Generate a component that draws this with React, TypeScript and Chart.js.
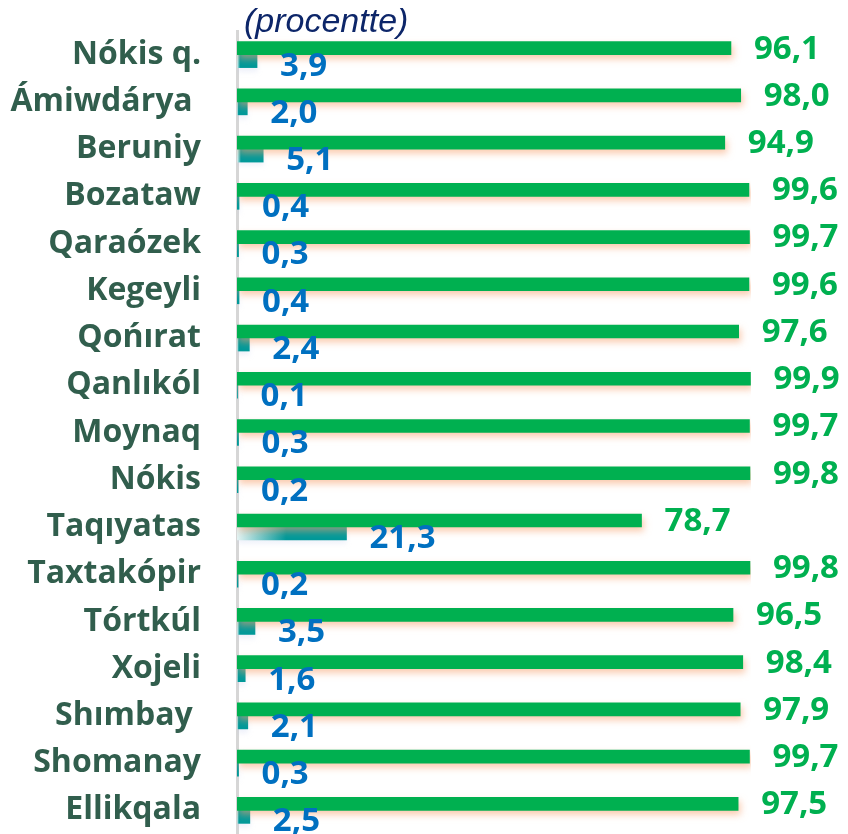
import React, { useEffect, useRef } from "react";
import { Chart, registerables } from "chart.js";

Chart.register(...registerables);

const categories = [
  "Nókis q.",
  "Ámiwdárya ",
  "Beruniy",
  "Bozataw",
  "Qaraózek",
  "Kegeyli",
  "Qońırat",
  "Qanlıkól",
  "Moynaq",
  "Nókis",
  "Taqıyatas",
  "Taxtakópir",
  "Tórtkúl",
  "Xojeli",
  "Shımbay ",
  "Shomanay",
  "Ellikqala",
];

const greenValues = [96.1, 98.0, 94.9, 99.6, 99.7, 99.6, 97.6, 99.9, 99.7, 99.8, 78.7, 99.8, 96.5, 98.4, 97.9, 99.7, 97.5];
const tealValues = [3.9, 2.0, 5.1, 0.4, 0.3, 0.4, 2.4, 0.1, 0.3, 0.2, 21.3, 0.2, 3.5, 1.6, 2.1, 0.3, 2.5];

const unitLabel = "(procentte)";

const GREEN = "#00b050";
const TEAL = "#009999";
const BLUE = "#0070c0";
const CAT_COLOR = "#315e4d";
const TITLE_COLOR = "#0d2669";
const VALUE_FONT = "bold 33px 'Open Sans'";

const fmt = (v: number) => v.toFixed(1).replace(".", ",");

export default function App() {
  const ref = useRef<HTMLCanvasElement | null>(null);

  useEffect(() => {
    if (!ref.current) return;

    const shadowPlugin = {
      id: "barShadow",
      beforeDatasetDraw(chart: any, args: any) {
        const ctx = chart.ctx;
        ctx.save();
        if (args.index === 0) {
          ctx.shadowColor = "rgba(245,160,110,0.55)";
          ctx.shadowBlur = 7;
          ctx.shadowOffsetX = 2;
          ctx.shadowOffsetY = 4;
        } else {
          ctx.shadowColor = "rgba(190,200,235,0.25)";
          ctx.shadowBlur = 5;
          ctx.shadowOffsetX = 0;
          ctx.shadowOffsetY = 4;
        }
      },
      afterDatasetDraw(chart: any) {
        chart.ctx.restore();
      },
    };

    const labelPlugin = {
      id: "valueLabels",
      afterDatasetsDraw(chart: any) {
        const ctx = chart.ctx;
        ctx.save();
        ctx.font = VALUE_FONT;
        ctx.textAlign = "left";
        ctx.textBaseline = "middle";
        const m0 = chart.getDatasetMeta(0);
        const m1 = chart.getDatasetMeta(1);
        m0.data.forEach((el: any, i: number) => {
          ctx.fillStyle = GREEN;
          ctx.fillText(fmt(greenValues[i]), el.x + 23, el.y + 1);
        });
        m1.data.forEach((el: any, i: number) => {
          ctx.fillStyle = BLUE;
          ctx.fillText(fmt(tealValues[i]), el.x + 23, el.y + 5);
        });
        ctx.font = "italic 34px 'Liberation Sans'";
        ctx.fillStyle = TITLE_COLOR;
        ctx.textBaseline = "middle";
        ctx.fillText(unitLabel, 244, 23);
        ctx.restore();
      },
    };

    const tealGradient = (c: any) => {
      const chart = c.chart;
      if (!chart.chartArea || c.dataIndex === undefined) return TEAL;
      const xs = chart.scales.x;
      const x0 = xs.getPixelForValue(0);
      const x1 = xs.getPixelForValue(tealValues[c.dataIndex]);
      const w = Math.max(1, x1 - x0);
      const fade = w > 60 ? 0.45 : 0.15;
      const g = chart.ctx.createLinearGradient(x0, 0, x1, 0);
      g.addColorStop(0, "#e4f3f3");
      g.addColorStop(fade, TEAL);
      g.addColorStop(1, TEAL);
      return g;
    };

    const chart = new Chart(ref.current, {
      type: "bar",
      data: {
        labels: categories,
        datasets: [
          {
            data: greenValues,
            backgroundColor: GREEN,
            barThickness: 13,
            categoryPercentage: 0.826,
          },
          {
            data: tealValues,
            backgroundColor: tealGradient,
            barThickness: 13,
            categoryPercentage: 0.826,
          },
        ],
      },
      options: {
        indexAxis: "y",
        animation: false,
        responsive: false,
        layout: { padding: { top: 31, right: 97, bottom: 0, left: 0 } },
        plugins: {
          legend: { display: false },
          tooltip: { enabled: false },
        },
        scales: {
          x: {
            display: false,
            min: 0,
            max: 100,
          },
          y: {
            grid: { display: false, drawTicks: false },
            border: { display: true, color: "#d6d6d6", width: 3 },
            ticks: {
              padding: 36,
              color: CAT_COLOR,
              font: { family: "'Open Sans'", weight: "bold", size: 32 },
              autoSkip: false,
            },
            afterFit(scale: any) {
              scale.width = 237;
              scale.paddingTop = 0;
              scale.paddingBottom = 0;
            },
          },
        },
      },
      plugins: [shadowPlugin, labelPlugin],
    } as any);

    return () => chart.destroy();
  }, []);

  return (
    <div style={{ position: "absolute", left: 0, top: 0, width: 848, height: 834, background: "#fff" }}>
      <canvas ref={ref} width={848} height={834} style={{ display: "block" }} />
    </div>
  );
}
